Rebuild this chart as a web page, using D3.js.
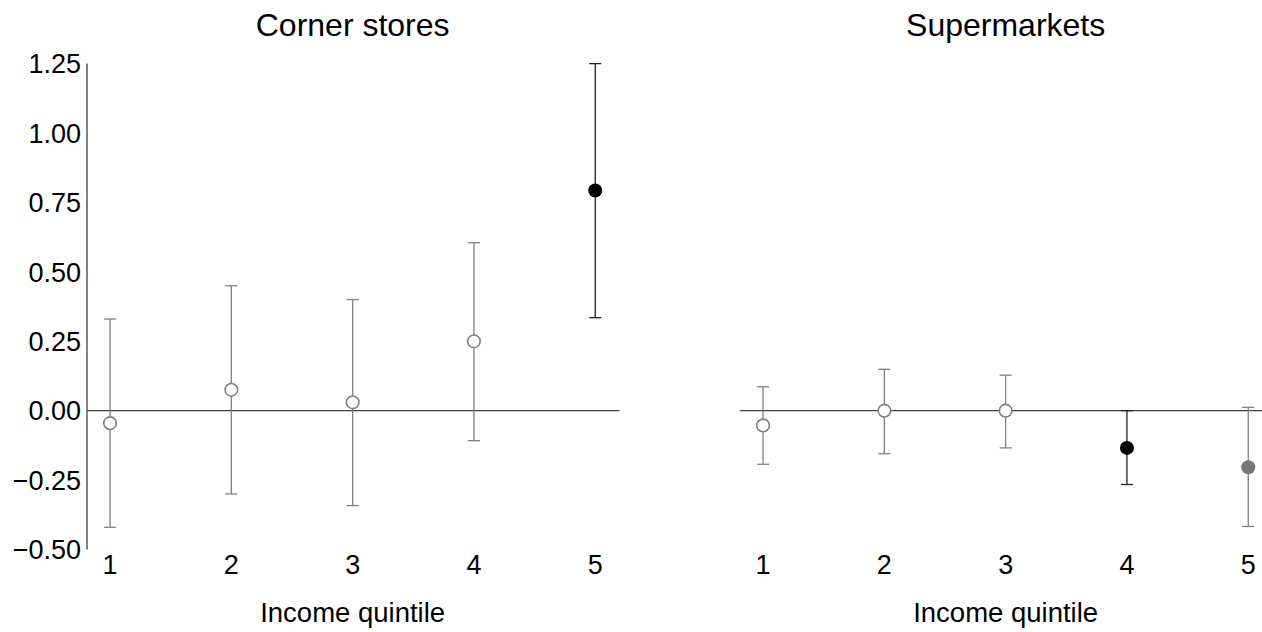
<!DOCTYPE html>
<html>
<head>
<meta charset="utf-8">
<script src="https://cdn.jsdelivr.net/npm/d3@7"></script>
<style>
  body { margin: 0; background: #fff; }
  svg text { font-family: "Liberation Sans", Arial, sans-serif; fill: #000; }
</style>
</head>
<body>
<svg id="chart" width="1262" height="632"></svg>
<script>
// data
var quintiles = [1, 2, 3, 4, 5];
var yTicks = [-0.5, -0.25, 0, 0.25, 0.5, 0.75, 1.0, 1.25];

var cornerEst = [-0.045, 0.075, 0.03, 0.25, 0.793];
var cornerLo = [-0.42, -0.30, -0.342, -0.108, 0.335];
var cornerHi = [0.33, 0.45, 0.40, 0.605, 1.25];
var cornerSig = ["no", "no", "no", "no", "yes"];

var superEst = [-0.053, 0.0, 0.0, -0.134, -0.204];
var superLo = [-0.193, -0.155, -0.134, -0.266, -0.417];
var superHi = [0.086, 0.149, 0.128, 0.0, 0.012];
var superSig = ["no", "no", "no", "yes", "weak"];

var grey = "#808080";
var axisColor = "#404040";

var svg = d3.select("#chart");

var y = d3.scaleLinear().domain([-0.5, 1.25]).range([549.5, 63.6]);

function drawPanel(opts) {
  var x = d3.scaleLinear().domain([0.81, 5.2]).range([opts.left, opts.left + (5.2 - 0.81) * 121.3]);
  var g = svg.append("g");

  // zero line
  g.append("line")
    .attr("x1", x(0.81)).attr("x2", x(5.2))
    .attr("y1", y(0)).attr("y2", y(0))
    .attr("stroke", axisColor).attr("stroke-width", 1.3);

  if (opts.yAxis) {
    g.append("line")
      .attr("x1", x(0.81)).attr("x2", x(0.81))
      .attr("y1", y(-0.5)).attr("y2", y(1.25))
      .attr("stroke", axisColor).attr("stroke-width", 1.3);
    g.selectAll(".ytick").data(yTicks).enter().append("text")
      .attr("x", x(0.81) - 6)
      .attr("y", function(d) { return y(d); })
      .attr("dy", "0.36em")
      .attr("text-anchor", "end")
      .style("font-size", "27px")
      .text(function(d) { return d3.format(".2f")(d).replace("-", "\u2212"); });
  }

  g.selectAll(".xtick").data(quintiles).enter().append("text")
    .attr("x", function(d) { return x(d); })
    .attr("y", 574)
    .attr("text-anchor", "middle")
    .style("font-size", "27px")
    .text(function(d) { return d; });

  g.append("text")
    .attr("x", (x(1) + x(5)) / 2)
    .attr("y", 622)
    .attr("text-anchor", "middle")
    .style("font-size", "27.5px")
    .text("Income quintile");

  g.append("text")
    .attr("x", (x(1) + x(5)) / 2)
    .attr("y", 36)
    .attr("text-anchor", "middle")
    .style("font-size", "32px")
    .text(opts.title);

  var rows = quintiles.map(function(q, i) {
    return { q: q, est: opts.est[i], lo: opts.lo[i], hi: opts.hi[i], sig: opts.sig[i] };
  });

  function barColor(d) { return d.sig == "yes" ? "#222" : grey; }

  var bars = g.selectAll(".bar").data(rows).enter().append("g");
  bars.append("line")
    .attr("x1", function(d) { return x(d.q); }).attr("x2", function(d) { return x(d.q); })
    .attr("y1", function(d) { return y(d.lo); }).attr("y2", function(d) { return y(d.hi); })
    .attr("stroke", barColor).attr("stroke-width", 1.3);
  bars.append("line")
    .attr("x1", function(d) { return x(d.q) - 6; }).attr("x2", function(d) { return x(d.q) + 6; })
    .attr("y1", function(d) { return y(d.lo); }).attr("y2", function(d) { return y(d.lo); })
    .attr("stroke", barColor).attr("stroke-width", 1.3);
  bars.append("line")
    .attr("x1", function(d) { return x(d.q) - 6; }).attr("x2", function(d) { return x(d.q) + 6; })
    .attr("y1", function(d) { return y(d.hi); }).attr("y2", function(d) { return y(d.hi); })
    .attr("stroke", barColor).attr("stroke-width", 1.3);

  bars.append("circle")
    .attr("cx", function(d) { return x(d.q); })
    .attr("cy", function(d) { return y(d.est); })
    .attr("r", function(d) { return d.sig == "no" ? 6.3 : 7; })
    .attr("fill", function(d) {
      if (d.sig == "yes") return "#000";
      if (d.sig == "weak") return "#777";
      return "#fff";
    })
    .attr("stroke", function(d) { return d.sig == "no" ? grey : "none"; })
    .attr("stroke-width", 1.6);
}

drawPanel({ left: 87, title: "Corner stores", yAxis: true,
  est: cornerEst, lo: cornerLo, hi: cornerHi, sig: cornerSig });
drawPanel({ left: 740, title: "Supermarkets", yAxis: false,
  est: superEst, lo: superLo, hi: superHi, sig: superSig });
</script>
</body>
</html>
